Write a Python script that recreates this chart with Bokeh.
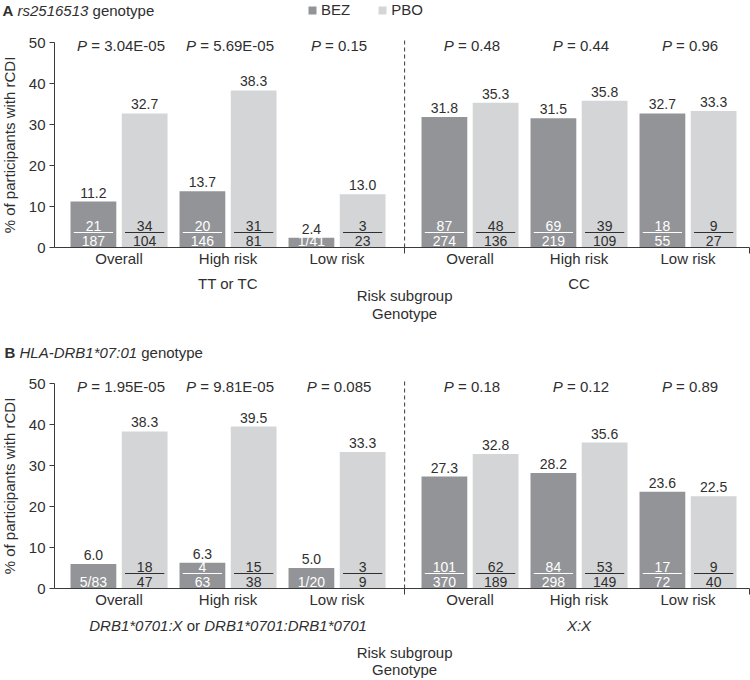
from bokeh.plotting import figure
from bokeh.models import (ColumnDataSource, FixedTicker, Label, Legend, LegendItem, Range1d)
from bokeh.core.properties import value
from bokeh.layouts import column
from bokeh.embed import file_html
from bokeh.resources import INLINE

# ---------------- data ----------------
subgroups = ["Overall", "High risk", "Low risk", "Overall", "High risk", "Low risk"]
y_ticks = [0, 10, 20, 30, 40, 50]
series = ["BEZ", "PBO"]

# Panel A: rs2516513 genotype
a_title = [("A", "bold"), (" ", "normal"), ("rs2516513", "italic"), (" genotype", "normal")]
a_genotypes = [[("TT or TC", "normal")], [("CC", "normal")]]
a_bez_pct = [11.2, 13.7, 2.4, 31.8, 31.5, 32.7]
a_pbo_pct = [32.7, 38.3, 13.0, 35.3, 35.8, 33.3]
a_bez_n = [21, 20, 1, 87, 69, 18]
a_bez_N = [187, 146, 41, 274, 219, 55]
a_pbo_n = [34, 31, 3, 48, 39, 9]
a_pbo_N = [104, 81, 23, 136, 109, 27]
a_pvals = ["3.04E-05", "5.69E-05", "0.15", "0.48", "0.44", "0.96"]

# Panel B: HLA-DRB1*07:01 genotype
b_title = [("B", "bold"), (" ", "normal"), ("HLA-DRB1*07:01", "italic"), (" genotype", "normal")]
b_genotypes = [[("DRB1*0701:X", "italic"), (" or ", "normal"), ("DRB1*0701:DRB1*0701", "italic")],
               [("X:X", "italic")]]
b_bez_pct = [6.0, 6.3, 5.0, 27.3, 28.2, 23.6]
b_pbo_pct = [38.3, 39.5, 33.3, 32.8, 35.6, 22.5]
b_bez_n = [5, 4, 1, 101, 84, 17]
b_bez_N = [83, 63, 20, 370, 298, 72]
b_pbo_n = [18, 15, 3, 62, 53, 9]
b_pbo_N = [47, 38, 9, 189, 149, 40]
b_pvals = ["1.95E-05", "9.81E-05", "0.085", "0.18", "0.12", "0.89"]

# ---------------- layout / style ----------------
FONT = "Liberation Sans"
TXT = "#2f2f2f"
AXIS = "#3a3a3a"
BEZ_C = "#939497"
PBO_C = "#d4d5d7"
W = 750
AX_L_PX, AX_R_PX = 54, 749          # x-axis extent in pixels
GAP = 0.22                          # extra gap between genotype blocks (group units)
XA0, XA1 = -0.592, 5.784            # x-axis extent in group units
DIVIDER = 2.62
BAR_W = 0.42
OFF = 0.235
HALF_LINE = 0.18
INLINE_BELOW = 6.2
PPU = (AX_R_PX - AX_L_PX) / (XA1 - XA0)
PPY = 205 / 50.0

CW = {' ': 278, '=': 584, '.': 278, '-': 333, 'E': 667, 'P': 667, 'D': 722, 'R': 722,
      'B': 667, '*': 389, ':': 278, 'X': 667, 'o': 556, 'r': 333, 'A': 667, 's': 500,
      'g': 556, 'e': 556, 'n': 556, 't': 278, 'y': 500, 'p': 556, 'H': 722, 'L': 556,
      'T': 611, 'C': 722}


def tw(s, size, bold=False):
    tot = 0
    for c in s:
        w = CW.get(c, 556)
        if bold and c in "AB":
            w = 722
        tot += w
    return tot * size / 1000.0


def add_mixed(p, parts, x, y, size, x_off, y_off, align="center"):
    widths = [tw(t, size, st == "bold") for t, st in parts]
    start = x_off - sum(widths) / 2.0 if align == "center" else x_off
    for (t, st), w in zip(parts, widths):
        lead = len(t) - len(t.lstrip())
        txt = t.strip()
        if txt:
            p.add_layout(Label(x=x, y=y, x_offset=start + tw(t[:lead], size), y_offset=y_off,
                               text=txt, text_font=FONT, text_font_size=f"{size}px",
                               text_font_style=st, text_color=TXT, text_align="left",
                               text_baseline="middle"))
        start += w


def make_panel(title, genotypes, bez_pct, pbo_pct, bez_n, bez_N, pbo_n, pbo_N, pvals,
               height, zero_px, title_up, title_x, title_size, geno_down, risk_down,
               gen_down, legend):
    gx = [i + (GAP if i >= 3 else 0) for i in range(len(subgroups))]
    x_start = XA0 - AX_L_PX / PPU
    x_end = XA1 + (W - AX_R_PX) / PPU
    y_start = -(height - zero_px) / PPY
    y_end = zero_px / PPY
    p = figure(width=W, height=height, output_backend="svg", toolbar_location=None,
               x_range=Range1d(x_start, x_end), y_range=Range1d(y_start, y_end),
               min_border=0)
    p.xgrid.visible = False
    p.ygrid.visible = False
    p.outline_line_color = None

    bx = [g - OFF for g in gx]
    px = [g + OFF for g in gx]
    rb = p.vbar(x=bx, top=bez_pct, width=BAR_W, fill_color=BEZ_C, line_color=None)
    rp = p.vbar(x=px, top=pbo_pct, width=BAR_W, fill_color=PBO_C, line_color=None)

    # value labels
    allv = list(bez_pct) + list(pbo_pct)
    vals = ColumnDataSource(dict(x=bx + px, y=allv, t=[f"{v:.1f}" for v in allv]))
    p.text(x="x", y="y", text="t", source=vals, text_font=value(FONT),
           text_font_size="14px", text_color=TXT, text_align="center",
           text_baseline="bottom", y_offset=-4)

    # fractions
    num = dict(x=[], t=[], c=[])
    den = dict(x=[], t=[], c=[])
    seg = dict(x0=[], x1=[], c=[])
    inl = dict(x=[], t=[], c=[])
    for xs, pcts, ns, Ns, col in ((bx, bez_pct, bez_n, bez_N, "#ffffff"),
                                  (px, pbo_pct, pbo_n, pbo_N, TXT)):
        for x, v, n, N in zip(xs, pcts, ns, Ns):
            if v < INLINE_BELOW:
                inl["x"].append(x); inl["t"].append(f"{n}/{N}"); inl["c"].append(col)
            else:
                num["x"].append(x); num["t"].append(str(n)); num["c"].append(col)
                den["x"].append(x); den["t"].append(str(N)); den["c"].append(col)
                seg["x0"].append(x - HALF_LINE); seg["x1"].append(x + HALF_LINE)
                seg["c"].append(col)
    y_num, y_den, y_line = 22 / PPY, 7 / PPY, 15 / PPY
    for d, yy in ((num, y_num), (den, y_den), (inl, y_den)):
        d["y"] = [yy] * len(d["x"])
        p.text(x="x", y="y", text="t", text_color="c", source=ColumnDataSource(d),
               text_font=value(FONT), text_font_size="14px", text_align="center",
               text_baseline="middle")
    seg["y"] = [y_line] * len(seg["x0"])
    p.segment(x0="x0", x1="x1", y0="y", y1="y", line_color="c", line_width=1.2,
              source=ColumnDataSource(seg))

    # dashed divider between genotype blocks
    p.segment(x0=[DIVIDER], x1=[DIVIDER], y0=[0], y1=[y_ticks[-1] + 0.5],
              line_color=AXIS, line_dash="4 3", line_width=1)

    # axes
    ya = p.yaxis[0]
    ya.fixed_location = XA0
    ya.bounds = (y_ticks[0], y_ticks[-1])
    ya.ticker = FixedTicker(ticks=y_ticks)
    ya.axis_label = "% of participants with rCDI"
    ya.axis_label_text_font = FONT
    ya.axis_label_text_font_size = "15px"
    ya.axis_label_text_font_style = "normal"
    ya.axis_label_text_color = TXT
    ya.axis_label_standoff = 8
    ya.major_label_text_font = FONT
    ya.major_label_text_font_size = "15px"
    ya.major_label_text_color = TXT
    ya.major_label_standoff = 4
    ya.major_tick_out = 5
    ya.major_tick_in = 0
    ya.minor_tick_out = 0
    ya.minor_tick_in = 0
    ya.axis_line_color = AXIS
    ya.major_tick_line_color = AXIS

    xa = p.xaxis[0]
    xa.fixed_location = 0
    xa.bounds = (XA0, XA1)
    xa.ticker = FixedTicker(ticks=gx, minor_ticks=[DIVIDER, XA1 - 0.001])
    xa.major_label_overrides = {g: s for g, s in zip(gx, subgroups)}
    xa.major_label_text_font = FONT
    xa.major_label_text_font_size = "15px"
    xa.major_label_text_color = TXT
    xa.major_label_standoff = -4
    xa.major_tick_out = 0
    xa.major_tick_in = 0
    xa.major_tick_line_color = None
    xa.minor_tick_out = 6
    xa.minor_tick_in = 0
    xa.minor_tick_line_color = AXIS
    xa.axis_line_color = AXIS

    # title
    add_mixed(p, title, XA0, y_ticks[-1], title_size, title_x - AX_L_PX, title_up,
              align="left")
    # P values
    for g, pv in zip(gx, pvals):
        add_mixed(p, [("P", "italic"), (" = " + pv, "normal")], g, y_ticks[-1], 15, 2, -3)
    # genotype group labels
    for g, parts in zip((gx[1], gx[4]), genotypes):
        add_mixed(p, parts, g, 0, 15, 0, -geno_down)
    for txt, dn in (("Risk subgroup", risk_down), ("Genotype", gen_down)):
        p.add_layout(Label(x=DIVIDER, y=0, y_offset=-dn, text=txt, text_font=FONT,
                           text_font_size="15px", text_color=TXT, text_align="center",
                           text_baseline="middle"))

    if legend:
        lg = Legend(items=[LegendItem(label=series[0], renderers=[rb]),
                           LegendItem(label=series[1], renderers=[rp])],
                    orientation="horizontal", location=(307, height - 18),
                    border_line_color=None, background_fill_alpha=0, padding=0, margin=0,
                    spacing=27, glyph_width=10, glyph_height=10, label_standoff=4,
                    label_height=15, label_text_font=FONT, label_text_font_size="15px",
                    label_text_color=TXT)
        p.add_layout(lg)
    return p


pa = make_panel(a_title, a_genotypes, a_bez_pct, a_pbo_pct, a_bez_n, a_bez_N, a_pbo_n,
                a_pbo_N, a_pvals, height=340, zero_px=247, title_up=32, title_x=2,
                title_size=15, geno_down=36, risk_down=48, gen_down=66, legend=True)
pb = make_panel(b_title, b_genotypes, b_bez_pct, b_pbo_pct, b_bez_n, b_bez_N, b_pbo_n,
                b_pbo_N, b_pvals, height=340, zero_px=248, title_up=31, title_x=4,
                title_size=15, geno_down=37, risk_down=64, gen_down=81, legend=False)

layout = column(pa, pb, spacing=0)
open("out.html", "w").write(file_html(layout, INLINE))
